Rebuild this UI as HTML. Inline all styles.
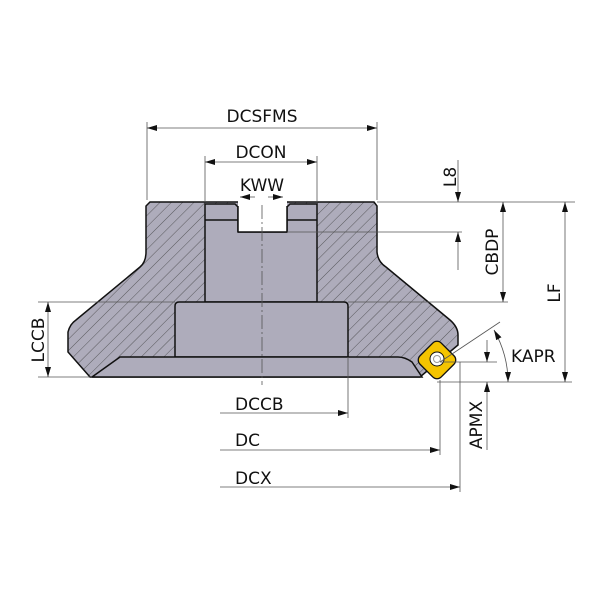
<!DOCTYPE html>
<html><head><style>body{margin:0;background:#fff}svg{display:block}text{font-family:"DejaVu Sans","Liberation Sans",sans-serif;font-size:17px;fill:#111}</style></head><body>
<svg width="600" height="600" viewBox="0 0 600 600" xmlns="http://www.w3.org/2000/svg">
<defs>
<pattern id="h" patternUnits="userSpaceOnUse" width="8" height="8" patternTransform="rotate(45)">
<rect width="8" height="8" fill="#aeacbb"/><line x1="0" y1="0" x2="0" y2="8" stroke="#333" stroke-width="0.7"/></pattern>
<marker id="a" viewBox="0 0 10 6" refX="10" refY="3" markerWidth="10" markerHeight="6" orient="auto-start-reverse" markerUnits="userSpaceOnUse"><path d="M0,0L10,3L0,6z" fill="#111"/></marker>
</defs>
<path d="M150,202 L374,202 L377,206 L377,252 Q378,262 386,267 L450,320 Q458,327 458,335 L458,345 L420,377 L90,377 L68,352 L68,332 Q70,324 76,320 L140,267 Q146,262 146,252 L146,206 Z" fill="url(#h)" stroke="#111" stroke-width="1.5"/>
<path d="M205,204 L235,204 L238,207 L238,232 L287,232 L287,207 L290,204 L317,204 L317,302 L205,302 Z" fill="#aeacbb" stroke="#111" stroke-width="1.5"/>
<line x1="205" y1="220" x2="238" y2="220" stroke="#111" stroke-width="1.5"/>
<line x1="287" y1="220" x2="317" y2="220" stroke="#111" stroke-width="1.5"/>
<rect x="238" y="198" width="49" height="34" fill="#fff"/>
<line x1="238" y1="206" x2="238" y2="232" stroke="#111" stroke-width="1.5"/>
<line x1="287" y1="206" x2="287" y2="232" stroke="#111" stroke-width="1.5"/>
<line x1="238" y1="232" x2="287" y2="232" stroke="#111" stroke-width="1.5"/>
<path d="M175,357 L175,306 Q175,302 179,302 L344,302 Q348,302 348,306 L348,357 Z" fill="#aeacbb" stroke="#111" stroke-width="1.5"/>
<path d="M92,377 L120,357 L398,357 Q405,357 412,362 L422,377 Z" fill="#aeacbb" stroke="#111" stroke-width="1.5"/>
<g transform="translate(437,360) rotate(45)">
<rect x="-15" y="-15" width="30" height="30" rx="6" fill="#f5c400" stroke="#111" stroke-width="1.3"/></g>
<circle cx="437" cy="359" r="7" fill="#fff" stroke="#111" stroke-width="1"/>
<circle cx="437" cy="359" r="3.5" fill="none" stroke="#999" stroke-width="1"/>
<line x1="262" y1="205" x2="262" y2="385" stroke="#555" stroke-width="0.8" stroke-dasharray="14,3,2,3"/>
<g stroke="#555" stroke-width="0.8" fill="none">
<line x1="147" y1="122" x2="147" y2="200"/><line x1="377" y1="122" x2="377" y2="200"/>
<line x1="205" y1="156" x2="205" y2="202"/><line x1="317" y1="156" x2="317" y2="202"/>
<line x1="377" y1="202" x2="575" y2="202"/><line x1="287" y1="232" x2="462" y2="232"/>
<line x1="348" y1="302" x2="508" y2="302"/><line x1="38" y1="302" x2="175" y2="302"/>
<line x1="38" y1="377" x2="92" y2="377"/>
<line x1="437" y1="382" x2="572" y2="382"/>
<line x1="440" y1="362" x2="497" y2="362"/>
<line x1="348" y1="357" x2="348" y2="418"/><line x1="440" y1="380" x2="440" y2="455"/><line x1="460" y1="362" x2="460" y2="492"/>
<line x1="440" y1="362" x2="500" y2="322"/>
<line x1="458" y1="160" x2="458" y2="202" marker-end="url(#a)"/><line x1="458" y1="270" x2="458" y2="232" marker-end="url(#a)"/>
<line x1="147" y1="128" x2="377" y2="128" marker-start="url(#a)" marker-end="url(#a)"/>
<line x1="205" y1="162" x2="317" y2="162" marker-start="url(#a)" marker-end="url(#a)"/>
<line x1="240" y1="197" x2="255" y2="197" marker-start="url(#a)"/><line x1="268" y1="197" x2="283" y2="197" marker-end="url(#a)"/>
<line x1="503" y1="202" x2="503" y2="302" marker-start="url(#a)" marker-end="url(#a)"/>
<line x1="565" y1="202" x2="565" y2="382" marker-start="url(#a)" marker-end="url(#a)"/>
<line x1="48" y1="302" x2="48" y2="377" marker-start="url(#a)" marker-end="url(#a)"/>
<line x1="220" y1="413" x2="348" y2="413" marker-end="url(#a)"/>
<line x1="220" y1="450" x2="440" y2="450" marker-end="url(#a)"/>
<line x1="220" y1="487" x2="460" y2="487" marker-end="url(#a)"/>
<line x1="487" y1="340" x2="487" y2="362" marker-end="url(#a)"/><line x1="487" y1="450" x2="487" y2="382" marker-end="url(#a)"/>
<path d="M494,330 Q508,355 508,382" marker-start="url(#a)" marker-end="url(#a)"/>
</g>
<text x="262" y="122" text-anchor="middle">DCSFMS</text>
<text x="261" y="158" text-anchor="middle">DCON</text>
<text x="262" y="191" text-anchor="middle">KWW</text>
<text transform="translate(456,177) rotate(-90)" text-anchor="middle">L8</text>
<text transform="translate(498,252) rotate(-90)" text-anchor="middle">CBDP</text>
<text transform="translate(560,293) rotate(-90)" text-anchor="middle">LF</text>
<text transform="translate(44,340) rotate(-90)" text-anchor="middle">LCCB</text>
<text transform="translate(482,425) rotate(-90)" text-anchor="middle">APMX</text>
<text x="511" y="362">KAPR</text>
<text x="235" y="410">DCCB</text>
<text x="235" y="446">DC</text>
<text x="235" y="484">DCX</text>
</svg>
</body></html>
